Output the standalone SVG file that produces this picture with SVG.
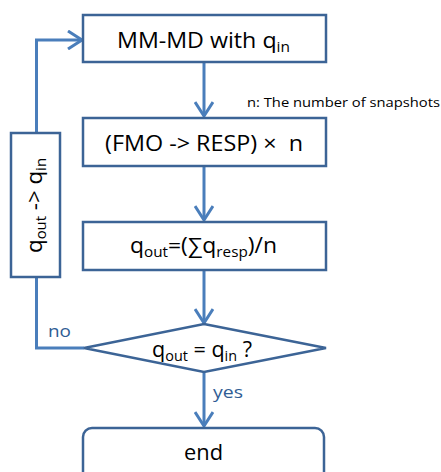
<svg xmlns="http://www.w3.org/2000/svg" width="441" height="472" viewBox="0 0 441 472">
<style>
.box{fill:#fff;stroke:#3C6496;stroke-width:2.5}
.conn{fill:none;stroke:#4A7EBB;stroke-width:3}
.t{font-family:"Open Sans","Liberation Sans",sans-serif;fill:#000;font-size:21px}
.s{font-size:14px}
.lbl{font-family:"Open Sans","Liberation Sans",sans-serif;fill:#2F5D94;font-size:17px}
</style>
<defs>
<marker id="ah" markerWidth="20" markerHeight="20" refX="16" refY="10" orient="auto" markerUnits="userSpaceOnUse">
<path d="M2,1 L16,10 L2,19" fill="none" stroke="#4A7EBB" stroke-width="3"/>
</marker>
</defs>
<rect width="441" height="472" fill="#fff"/>
<g id="connectors">
<line class="conn" x1="204" y1="63" x2="204" y2="116" marker-end="url(#ah)"/>
<line class="conn" x1="204" y1="167" x2="204" y2="220" marker-end="url(#ah)"/>
<line class="conn" x1="204" y1="271" x2="204" y2="323" marker-end="url(#ah)"/>
<line class="conn" x1="204" y1="373" x2="204" y2="426" marker-end="url(#ah)"/>
<polyline class="conn" points="84,348 36.5,348 36.5,278"/>
<polyline class="conn" points="36.5,133 36.5,40 82,40" marker-end="url(#ah)"/>
<text class="lbl" x="48" y="337" textLength="23" lengthAdjust="spacingAndGlyphs">no</text>
<text class="lbl" x="213" y="398" textLength="30" lengthAdjust="spacingAndGlyphs">yes</text>
</g>
<g id="mmmd">
<rect class="box" x="83" y="15" width="243" height="47"/>
<text class="t" x="117" y="48" textLength="173" lengthAdjust="spacingAndGlyphs">MM-MD with q<tspan class="s" dy="4">in</tspan></text>
</g>
<text x="247" y="107" font-family="'Open Sans','Liberation Sans',sans-serif" font-size="13.5" textLength="193" lengthAdjust="spacingAndGlyphs">n: The number of snapshots</text>
<g id="fmo">
<rect class="box" x="83" y="118" width="243" height="48"/>
<text class="t" x="105" y="151" textLength="198" lengthAdjust="spacingAndGlyphs" xml:space="preserve">(FMO -&gt; RESP) ×  n</text>
</g>
<g id="qout">
<rect class="box" x="83" y="222" width="243" height="48"/>
<text class="t" x="130" y="253" textLength="147" lengthAdjust="spacingAndGlyphs">q<tspan class="s" dy="4">out</tspan><tspan dy="-4">=(∑q</tspan><tspan class="s" dy="4">resp</tspan><tspan dy="-4">)/n</tspan></text>
</g>
<g id="decision">
<polygon class="box" points="204,324 326,348 204,372 84,348"/>
<text class="t" x="152" y="357" textLength="100" lengthAdjust="spacingAndGlyphs">q<tspan class="s" dy="4">out</tspan><tspan dy="-4"> = q</tspan><tspan class="s" dy="4">in</tspan><tspan dy="-4"> ?</tspan></text>
</g>
<g id="update">
<rect class="box" x="11" y="133" width="49" height="144"/>
<text class="t" transform="translate(42,253) rotate(-90)" x="0" y="0" textLength="95" lengthAdjust="spacingAndGlyphs">q<tspan class="s" dy="4">out</tspan><tspan dy="-4"> -&gt; q</tspan><tspan class="s" dy="4">in</tspan></text>
</g>
<g id="end">
<rect class="box" x="83" y="428" width="241" height="60" rx="9"/>
<text class="t" x="184" y="460" textLength="39" lengthAdjust="spacingAndGlyphs">end</text>
</g>
</svg>
